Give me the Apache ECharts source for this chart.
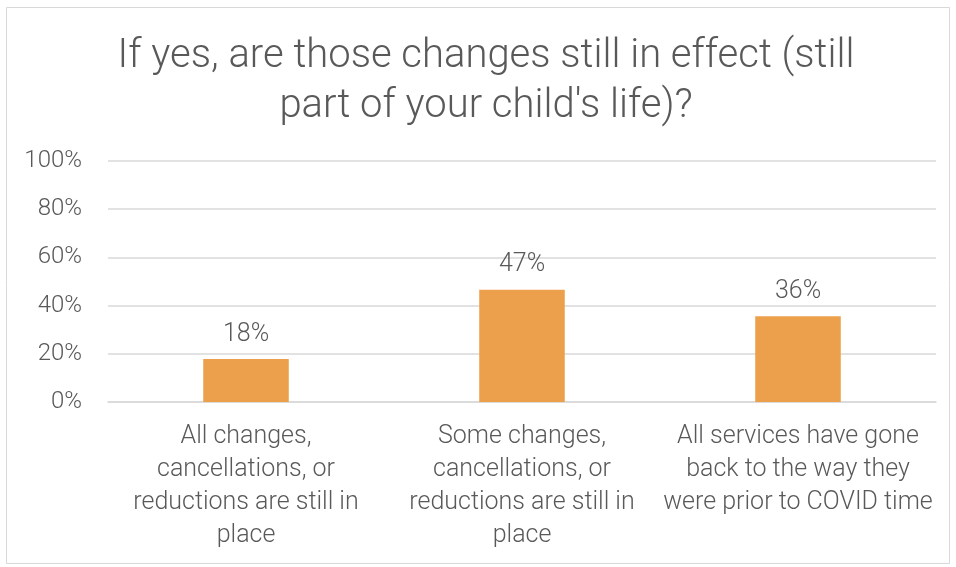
<!DOCTYPE html>
<html>
<head>
<meta charset="utf-8">
<script src="https://cdn.jsdelivr.net/npm/echarts@6/dist/echarts.min.js"></script>
<style>
html,body{margin:0;padding:0;background:#fff;}
#c{width:956px;height:567px;}
</style>
</head>
<body>
<div id="c"></div>
<script>
var titleText = "If yes, are those changes still in effect (still\npart of your child's life)?";
var categories = [
  "All changes,\ncancellations, or\nreductions are still in\nplace",
  "Some changes,\ncancellations, or\nreductions are still in\nplace",
  "All services have gone\nback to the way they\nwere prior to COVID time"
];
var values = [17.8, 46.6, 35.6];
var yTicks = [0, 20, 40, 60, 80, 100];

var FONT = "Roboto";
var chart = echarts.init(document.getElementById('c'), null, {renderer: 'canvas'});
chart.setOption({
  backgroundColor: '#ffffff',
  animation: false,
  graphic: [{
    type: 'rect',
    shape: {x: 6.5, y: 7.5, width: 943, height: 556},
    style: {fill: 'none', stroke: '#d9d9d9', lineWidth: 1},
    silent: true, z: -1
  }],
  title: {
    text: titleText,
    left: 481,
    top: 27,
    textAlign: 'center',
    textStyle: {
      fontFamily: FONT, fontWeight: 300, fontSize: 40, lineHeight: 50,
      color: '#595959'
    }
  },
  grid: {left: 108, right: 20, top: 161, bottom: 165, containLabel: false},
  xAxis: {
    type: 'category',
    data: categories,
    axisLine: {show: true, lineStyle: {color: '#d9d9d9', width: 1.5}},
    axisTick: {show: false},
    axisLabel: {
      interval: 0, margin: 18, color: '#595959',
      fontFamily: FONT, fontWeight: 300, fontSize: 25, lineHeight: 33, align: 'center'
    }
  },
  yAxis: {
    type: 'value',
    min: yTicks[0], max: yTicks[yTicks.length - 1], interval: 20,
    axisLine: {show: false},
    axisTick: {show: false},
    splitLine: {lineStyle: {color: '#d9d9d9', width: 1.5}},
    axisLabel: {
      margin: 26, color: '#595959', fontFamily: FONT, fontWeight: 300, fontSize: 24,
      formatter: function (v) { return v + '%'; }
    }
  },
  series: [{
    type: 'bar',
    data: values,
    barWidth: '31%',
    itemStyle: {color: '#eda04c'},
    label: {
      show: true, position: 'top', distance: 12,
      color: '#595959', fontFamily: FONT, fontWeight: 300, fontSize: 25,
      formatter: function (p) { return Math.round(p.value) + '%'; }
    }
  }]
});
</script>
</body>
</html>
